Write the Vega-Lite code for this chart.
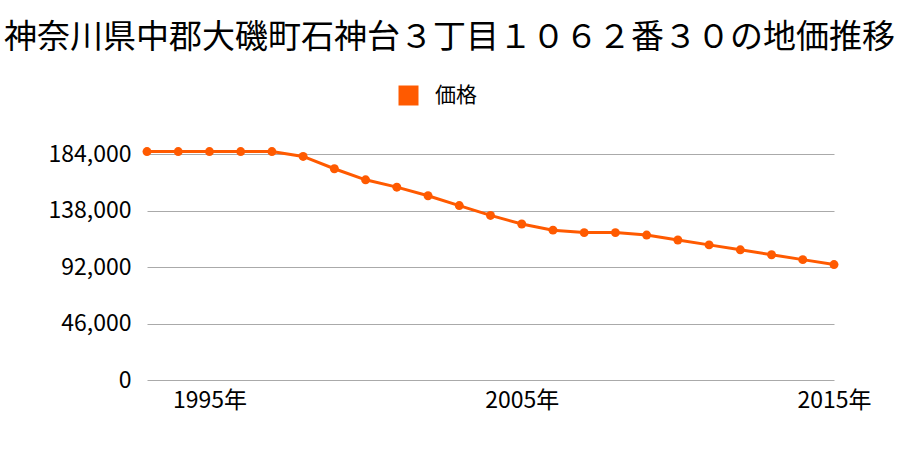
{
  "$schema": "https://vega.github.io/schema/vega-lite/v6.json",
  "autosize": "none",
  "width": 687,
  "height": 226,
  "padding": {"left": 147, "top": 154, "right": 66, "bottom": 70},
  "background": "white",
  "title": {
    "text": "神奈川県中郡大磯町石神台３丁目１０６２番３０の地価推移",
    "font": "Noto Sans CJK JP",
    "fontSize": 33,
    "fontWeight": "normal",
    "color": "#000000",
    "anchor": "middle",
    "frame": "group",
    "dx": -41,
    "offset": 30
  },
  "data": {
    "values": [
      {"year": 1993, "price": 186000, "series": "価格"},
      {"year": 1994, "price": 186000, "series": "価格"},
      {"year": 1995, "price": 186000, "series": "価格"},
      {"year": 1996, "price": 186000, "series": "価格"},
      {"year": 1997, "price": 186000, "series": "価格"},
      {"year": 1998, "price": 182000, "series": "価格"},
      {"year": 1999, "price": 172000, "series": "価格"},
      {"year": 2000, "price": 163000, "series": "価格"},
      {"year": 2001, "price": 157000, "series": "価格"},
      {"year": 2002, "price": 150000, "series": "価格"},
      {"year": 2003, "price": 142000, "series": "価格"},
      {"year": 2004, "price": 134000, "series": "価格"},
      {"year": 2005, "price": 127000, "series": "価格"},
      {"year": 2006, "price": 122000, "series": "価格"},
      {"year": 2007, "price": 120000, "series": "価格"},
      {"year": 2008, "price": 120000, "series": "価格"},
      {"year": 2009, "price": 118000, "series": "価格"},
      {"year": 2010, "price": 114000, "series": "価格"},
      {"year": 2011, "price": 110000, "series": "価格"},
      {"year": 2012, "price": 106000, "series": "価格"},
      {"year": 2013, "price": 102000, "series": "価格"},
      {"year": 2014, "price": 98000, "series": "価格"},
      {"year": 2015, "price": 94000, "series": "価格"}
    ]
  },
  "encoding": {
    "x": {
      "field": "year",
      "type": "quantitative",
      "scale": {"domain": [1993, 2015], "nice": false, "zero": false},
      "axis": {
        "title": null,
        "values": [1995, 2005, 2015],
        "labelExpr": "datum.value + '年'",
        "grid": false,
        "domain": false,
        "ticks": false,
        "labelFont": "Noto Sans CJK JP",
        "labelFontSize": 23,
        "labelColor": "#000000",
        "labelPadding": 9,
        "labelFlush": false
      }
    },
    "y": {
      "field": "price",
      "type": "quantitative",
      "scale": {"domain": [0, 184000], "nice": false},
      "axis": {
        "title": null,
        "values": [0, 46000, 92000, 138000, 184000],
        "format": ",d",
        "grid": true,
        "gridColor": "#aaaaaa",
        "gridWidth": 1,
        "domain": false,
        "ticks": false,
        "labelFont": "Noto Sans CJK JP",
        "labelFontSize": 23,
        "labelColor": "#000000",
        "labelPadding": 16
      }
    },
    "color": {
      "field": "series",
      "type": "nominal",
      "scale": {"range": ["#ff5a00"]},
      "legend": {
        "title": null,
        "orient": "none",
        "legendX": 251,
        "legendY": -69,
        "symbolType": "square",
        "symbolSize": 400,
        "symbolStrokeWidth": 0,
        "symbolOpacity": 1,
        "labelFont": "Noto Sans CJK JP",
        "labelFontSize": 21,
        "labelColor": "#000000",
        "labelOffset": 16
      }
    }
  },
  "layer": [
    {"mark": {"type": "line", "strokeWidth": 3}},
    {"mark": {"type": "circle", "size": 80, "opacity": 1}}
  ],
  "config": {"view": {"stroke": null}}
}
